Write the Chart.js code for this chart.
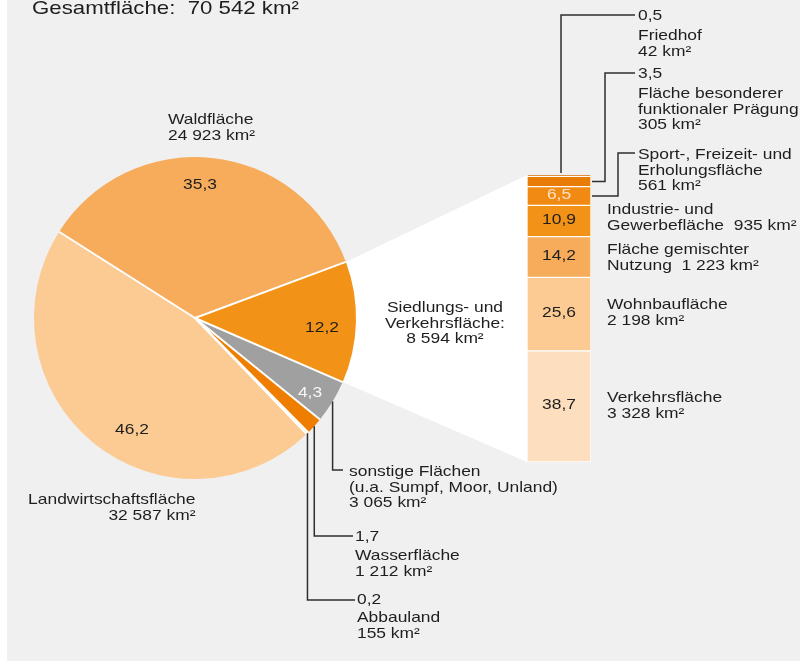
<!DOCTYPE html>
<html lang="de">
<head>
  <meta charset="UTF-8">
  <title>Bodenfläche nach Nutzungsart</title>
  <script src="https://cdn.jsdelivr.net/npm/chart.js"></script>
  <style>
    body {
      margin: 0;
      background: #fff;
    }
    #stage {
      position: relative;
      width: 800px;
      height: 661px;
      overflow: hidden;
    }
    .panel {
      position: absolute;
      left: 7px;
      top: 0;
      width: 793px;
      height: 661px;
      background: #f0f0f0;
    }
    canvas {
      position: absolute;
      left: 0;
      top: 0;
    }
    .lbl {
      position: absolute;
      font-family: "Liberation Sans", Arial, sans-serif;
      font-size: 14.5px;
      line-height: 15.5px;
      color: #1e1e1e;
      white-space: nowrap;
      transform: scaleX(1.2);
      transform-origin: 0 0;
    }
    .lbl.c {
      width: 100px;
      text-align: center;
      transform-origin: 50% 0;
    }
    .lbl.r {
      text-align: right;
      transform-origin: 100% 0;
    }
    .title {
      font-size: 19px;
      line-height: 19px;
      transform: scaleX(1.17);
    }
  </style>
</head>
<body>
  <div id="stage">
    <div class="panel"></div>
    <canvas id="pieChart" width="800" height="661"></canvas>
    <canvas id="barChart" width="800" height="661"></canvas>

    <div class="lbl title" style="left:32px; top:-2px;">Gesamtfläche:&nbsp; 70 542 km²</div>

    <div class="lbl" style="left:168px; top:112px;">Waldfläche<br>24 923 km²</div>
    <div class="lbl r" style="right:605px; top:492px;">Landwirtschaftsfläche<br>32 587 km²</div>
    <div class="lbl c" style="left:395px; top:300px; width:100px;">Siedlungs- und<br>Verkehrsfläche:<br>8 594 km²</div>
    <div class="lbl" style="left:349px; top:464px;">sonstige Flächen<br>(u.a. Sumpf, Moor, Unland)<br>3 065 km²</div>
    <div class="lbl" style="left:355px; top:548px;">Wasserfläche<br>1 212 km²</div>
    <div class="lbl" style="left:357px; top:610px;">Abbauland<br>155 km²</div>

    <div class="lbl" style="left:638px; top:28px;">Friedhof<br>42 km²</div>
    <div class="lbl" style="left:638px; top:86px;">Fläche besonderer<br>funktionaler Prägung<br>305 km²</div>
    <div class="lbl" style="left:638px; top:147px;">Sport-, Freizeit- und<br>Erholungsfläche<br>561 km²</div>
    <div class="lbl" style="left:607px; top:202px;">Industrie- und<br>Gewerbefläche&nbsp; 935 km²</div>
    <div class="lbl" style="left:607px; top:242px;">Fläche gemischter<br>Nutzung&nbsp; 1 223 km²</div>
    <div class="lbl" style="left:607px; top:297px;">Wohnbaufläche<br>2 198 km²</div>
    <div class="lbl" style="left:607px; top:390px;">Verkehrsfläche<br>3 328 km²</div>
  </div>

  <script>
    // pie: Bodenfläche, clockwise starting with the exploded slice
    const pieLabels = ['Siedlungs- und Verkehrsfläche', 'sonstige Flächen', 'Wasserfläche', 'Abbauland', 'Landwirtschaftsfläche', 'Waldfläche'];
    const pieKm2 = [8594, 3065, 1212, 155, 32587, 24923];
    const piePercent = ['12,2', '4,3', '1,7', '0,2', '46,2', '35,3'];
    const pieColors = ['#f29216', '#a0a0a0', '#ee7d00', '#fce0c0', '#fccb94', '#f6ac5b'];

    // bar: Siedlungs- und Verkehrsfläche, bottom to top
    const barLabels = ['Verkehrsfläche', 'Wohnbaufläche', 'Fläche gemischter Nutzung', 'Industrie- und Gewerbefläche', 'Sport-, Freizeit- und Erholungsfläche', 'Fläche besonderer funktionaler Prägung', 'Friedhof'];
    const barKm2 = [3328, 2198, 1223, 935, 561, 305, 42];
    const barPercent = ['38,7', '25,6', '14,2', '10,9', '6,5', '3,5', '0,5'];
    const barColors = ['#fddfbf', '#fccb94', '#f6ac5b', '#f29216', '#f08a12', '#e87c04', '#dc6e00'];

    const stage = document.getElementById('stage');

    function addLabel(text, x, capTop, align, color) {
      const d = document.createElement('div');
      d.className = 'lbl' + (align === 'c' ? ' c' : '');
      d.textContent = text;
      d.style.left = (align === 'c' ? x - 50 : x) + 'px';
      d.style.top = (capTop - 3) + 'px';
      if (color) d.style.color = color;
      stage.appendChild(d);
    }

    // where the percent figures of the pie sit
    const piePercentPos = [
      { x: 322, y: 323, a: 'c' },
      { x: 310, y: 388, a: 'c', color: '#f7f7f7' },
      { x: 355, y: 532 },
      { x: 357, y: 595 },
      { x: 132, y: 425, a: 'c' },
      { x: 200, y: 180, a: 'c' }
    ];
    // leader lines from the small pie slices down to their labels
    const pieLeaders = { 1: { y: 470, x2: 343 }, 2: { y: 536, x2: 353 }, 3: { y: 600, x2: 355 } };
    // leader lines from the thin bar segments up to their labels
    const barLeaders = { 6: { top: 15, outside: true }, 5: { elbow: 605, top: 73, outside: true }, 4: { elbow: 618, top: 153 } };
    const leaderEnd = 635;

    const barChart = new Chart(document.getElementById('barChart'), {
      type: 'bar',
      data: {
        labels: [''],
        datasets: barLabels.map((name, i) => ({
          label: name,
          data: [barKm2[i]],
          backgroundColor: barColors[i],
          borderColor: '#ffffff',
          borderWidth: 1,
          borderSkipped: false,
          barPercentage: 1,
          categoryPercentage: 1
        }))
      },
      options: {
        responsive: false,
        animation: false,
        devicePixelRatio: 1,
        layout: { padding: { left: 527, right: 209, top: 175, bottom: 199 } },
        scales: {
          x: { display: false, stacked: true },
          y: { display: false, stacked: true, min: 0, max: barKm2.reduce((a, b) => a + b, 0) }
        },
        plugins: { legend: { display: false }, tooltip: { enabled: false } }
      }
    });

    const linkPlugin = {
      id: 'link',
      beforeDatasetsDraw(chart) {
        // white wedge joining the Siedlung slice to the bar
        const arc = chart.getDatasetMeta(0).data[0];
        const bottomBar = barChart.getDatasetMeta(0).data[0];
        const topBar = barChart.getDatasetMeta(barKm2.length - 1).data[0];
        const left = bottomBar.x - bottomBar.width / 2;
        const r = arc.outerRadius;
        const ctx = chart.ctx;
        ctx.save();
        ctx.fillStyle = '#ffffff';
        ctx.beginPath();
        ctx.moveTo(arc.x, arc.y);
        ctx.lineTo(arc.x + r * Math.cos(arc.startAngle), arc.y + r * Math.sin(arc.startAngle));
        ctx.lineTo(left, topBar.y);
        ctx.lineTo(left, bottomBar.base);
        ctx.lineTo(arc.x + r * Math.cos(arc.endAngle), arc.y + r * Math.sin(arc.endAngle));
        ctx.closePath();
        ctx.fill();
        ctx.restore();
      },
      afterDatasetsDraw(chart) {
        // white separators between slices
        const ctx = chart.ctx;
        ctx.save();
        ctx.strokeStyle = '#ffffff';
        ctx.lineWidth = 2;
        chart.getDatasetMeta(0).data.forEach(arc => {
          ctx.beginPath();
          ctx.moveTo(arc.x, arc.y);
          ctx.lineTo(arc.x + arc.outerRadius * Math.cos(arc.startAngle), arc.y + arc.outerRadius * Math.sin(arc.startAngle));
          ctx.stroke();
        });
        ctx.restore();
      },
      afterDraw(chart) {
        const ctx = chart.ctx;
        ctx.save();
        ctx.strokeStyle = '#2e2e2e';
        ctx.lineWidth = 1.5;
        const arcs = chart.getDatasetMeta(0).data;
        Object.keys(pieLeaders).forEach(k => {
          const arc = arcs[k];
          const mid = (arc.startAngle + arc.endAngle) / 2;
          const sx = arc.x + arc.outerRadius * Math.cos(mid);
          const sy = arc.y + arc.outerRadius * Math.sin(mid);
          ctx.beginPath();
          ctx.moveTo(sx, sy);
          ctx.lineTo(sx, pieLeaders[k].y);
          ctx.lineTo(pieLeaders[k].x2, pieLeaders[k].y);
          ctx.stroke();
        });
        Object.keys(barLeaders).forEach(k => {
          const el = barChart.getDatasetMeta(k).data[0];
          const L = barLeaders[k];
          ctx.beginPath();
          if (L.elbow === undefined) {
            ctx.moveTo(el.x + 2, el.y - 2);
            ctx.lineTo(el.x + 2, L.top);
          } else {
            const my = (el.y + el.base) / 2;
            ctx.moveTo(el.x + el.width / 2 + 1, my);
            ctx.lineTo(L.elbow, my);
            ctx.lineTo(L.elbow, L.top);
          }
          ctx.lineTo(leaderEnd, L.top);
          ctx.stroke();
        });
        ctx.restore();
      }
    };

    const pieChart = new Chart(document.getElementById('pieChart'), {
      type: 'pie',
      data: {
        labels: pieLabels,
        datasets: [{
          data: pieKm2,
          backgroundColor: pieColors,
          borderWidth: 0
        }]
      },
      options: {
        responsive: false,
        animation: false,
        devicePixelRatio: 1,
        rotation: 69.6,
        radius: 161,
        layout: { padding: { left: 30, right: 440, top: 153, bottom: 178 } },
        plugins: { legend: { display: false }, tooltip: { enabled: false } }
      },
      plugins: [linkPlugin]
    });

    piePercent.forEach((t, i) => {
      const p = piePercentPos[i];
      addLabel(t, p.x, p.y, p.a, p.color);
    });

    // percent figures inside the bar, the two thinnest go beside it
    barPercent.forEach((t, i) => {
      const L = barLeaders[i];
      if (L && L.outside) {
        addLabel(t, leaderEnd + 3, L.top - 4);
        return;
      }
      const el = barChart.getDatasetMeta(i).data[0];
      addLabel(t, el.x, (el.y + el.base) / 2 - 6, 'c', i === 4 ? '#fde3c6' : null);
    });
  </script>
</body>
</html>
